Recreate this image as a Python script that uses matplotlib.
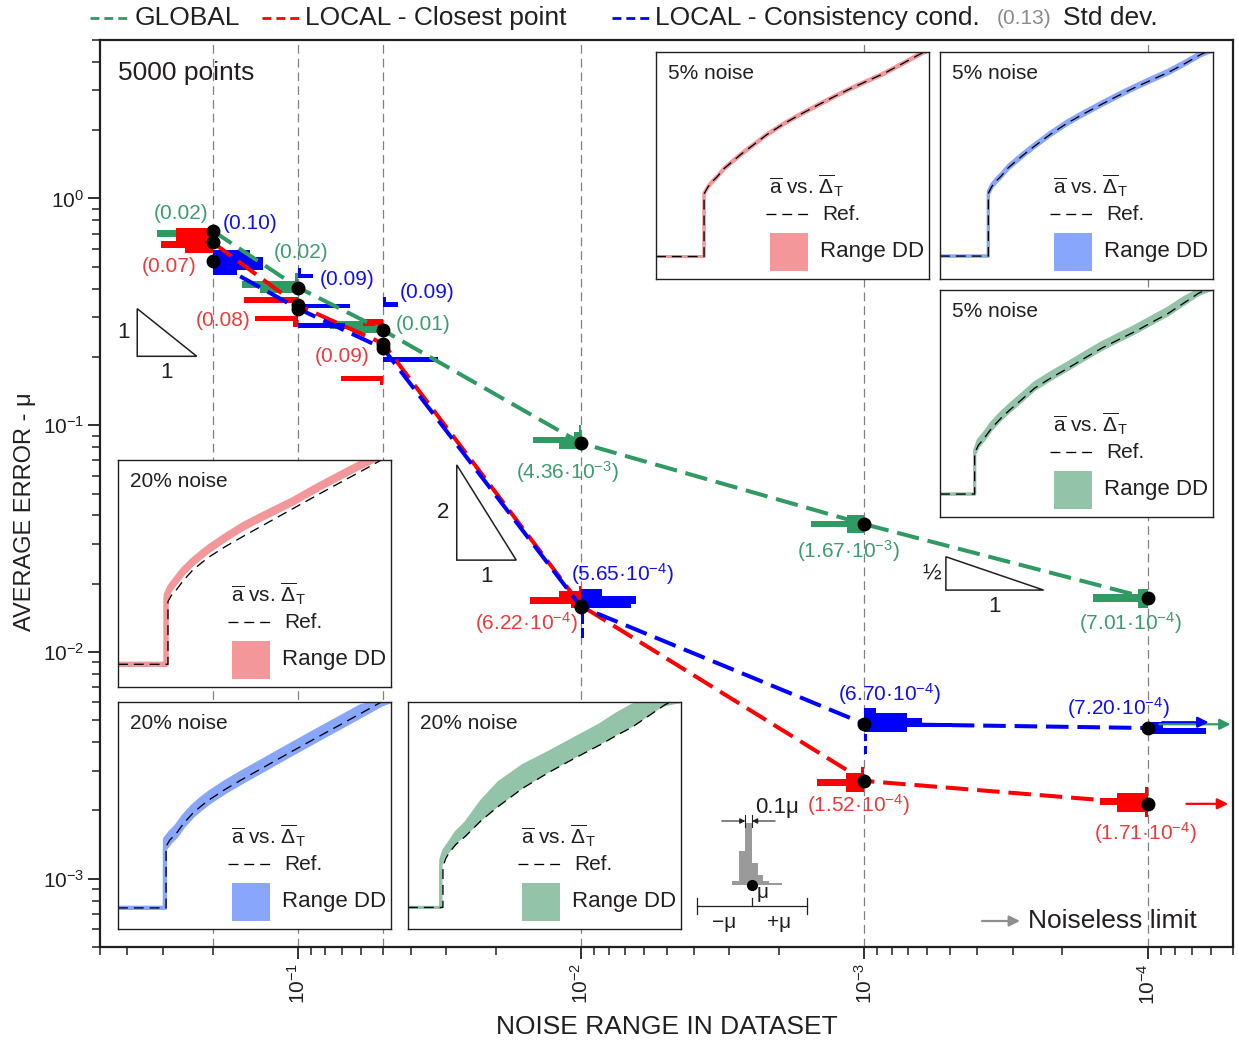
import matplotlib.pyplot as plt
import matplotlib.transforms as mtransforms
from matplotlib.patches import Rectangle, Polygon
from matplotlib.lines import Line2D
from matplotlib.ticker import LogLocator, NullFormatter
import numpy as np

plt.rcParams['font.family'] = ['Liberation Sans', 'DejaVu Sans']
plt.rcParams['mathtext.fontset'] = 'custom'
plt.rcParams['mathtext.rm'] = 'Liberation Sans'
plt.rcParams['mathtext.it'] = 'Liberation Sans:italic'
plt.rcParams['mathtext.bf'] = 'Liberation Sans:bold'
plt.rcParams['mathtext.sf'] = 'Liberation Sans'

W, H, DPI = 1238, 1043, 100
INK = '#231f20'
GREEN, RED, BLUE = '#2f9a62', '#ff0000', '#0000ff'
GREEN_TXT, RED_TXT, BLUE_TXT = '#3d9c6e', '#ee3a3a', '#1010ee'
GREEN_DD, RED_DD, BLUE_DD = '#93c4aa', '#f4979b', '#88a6fb'

# noise range of each dataset and mean error mu of each method
noise = [0.2, 0.1, 0.05, 0.01, 1e-3, 1e-4]
mu_global = [0.72, 0.405, 0.262, 0.0833, 0.0366, 0.0173]
mu_closest = [0.64, 0.338, 0.229, 0.0160, 0.0027, 0.00214]
mu_consist = [0.53, 0.327, 0.218, 0.0158, 0.00482, 0.00462]

# standard deviation of the error
std_global = [0.02, 0.02, 0.01, 4.36e-3, 1.67e-3, 7.01e-4]
std_closest = [0.07, 0.08, 0.09, 6.22e-4, 1.52e-4, 1.71e-4]
std_consist = [0.10, 0.09, 0.09, 5.65e-4, 6.70e-4, 7.20e-4]

# error histograms: (bin top, bin bottom, count) in screen px around mu
hist_global = [
    [(-1, 6, 56)],
    [(-15, -7, 3), (-7, 0, 56), (0, 5, 38)],
    [(-9, -1, 53), (-1, 3, 30)],
    [(-18, -11, 2), (-11, -6, 7), (-6, 0, 48), (0, 6, 22)],
    [(-9, -3, 17), (-3, 3, 53), (3, 9, 17)],
    [(-9, -4, 10), (-4, 4, 55), (4, 10, 10)],
]
hist_closest = [
    [(-14, -6, 37), (-6, -1, 37), (-1, 6, 52), (6, 11, 28)],
    [(-8, -2, 54), (11, 16, 43), (16, 22, 5)],
    [(-25, -18, 20), (32, 37, 42), (37, 41, 3)],
    [(-20, -15, 2), (-15, -9, 22), (-9, -2, 51), (-2, 2, 10)],
    [(-14, -8, 3), (-8, -2, 18), (-2, 5, 47), (5, 11, 18)],
    [(-17, -11, 3), (-11, -6, 31), (-6, 1, 48), (1, 8, 31), (8, 13, 3)],
]
hist_consist = [
    [(-11, -4, 37), (-4, 9, 50), (9, 14, 24)],
    [(-41, -35, 3), (-35, -31, 15), (-5, -1, 52), (14, 19, 47)],
    [(-51, -46, 3), (-46, -41, 15), (9, 14, 55)],
    [(-18, -11, 21), (-11, -3, 55), (-3, 1, 50), (7, 17, 3), (21, 31, 3)],
    [(-16, -11, 12), (-11, -6, 43), (-6, -1, 58), (-1, 3, 88), (3, 8, 43),
     (10, 17, 3), (22, 30, 3)],
    [(-6, 0, 15), (0, 6, 58)],
]

# noiseless limits (arrows at the right edge)
limit_global = 0.0048
limit_consist = 0.0049
limit_closest = 0.00214

# label offsets (px right, px down)
off_global = [(-32, -17), (3, -35), (40, -6), (-14, 29), (-16, 27), (-17, 25)]
off_closest = [(-44, 24), (-75, 15), (-41, 13), (-55, 17), (-6, 24), (-2, 29)]
off_consist = [(37, -38), (49, -29), (44, -56), (41, -33), (25, -30), (-29, -20)]

# slope guides: corner x, corner y, run and rise in decades, labels
slopes = [
    (0.3694, 0.2014, 0.21, 0.21, '1', '1'),
    (0.02751, 0.02542, 0.21, 0.42, '2', '1'),
    (5.16e-4, 0.01875, 0.345, 0.147, '½', '1'),
]

# inset curves (normalised): reference and Range DD band
inset_curves = {
    'red5': dict(
        rx=[0.0, 0.176, 0.176, 0.19, 0.205, 0.223, 0.25, 0.284, 0.315, 0.346, 0.405,
            0.468, 0.53, 0.591, 0.652, 0.713, 0.775, 0.836, 0.897, 0.958, 0.99],
        ry=[0.099, 0.099, 0.375, 0.405, 0.428, 0.449, 0.487, 0.522, 0.553, 0.581, 0.635,
            0.684, 0.726, 0.765, 0.803, 0.839, 0.873, 0.906, 0.945, 0.985, 1.005],
        dx=[0.0, 0.176, 0.176, 0.19, 0.205, 0.223, 0.25, 0.284, 0.315, 0.346, 0.405,
            0.468, 0.53, 0.591, 0.652, 0.713, 0.775, 0.836, 0.897, 0.958, 0.99],
        lo=[0.099, 0.099, 0.371, 0.401, 0.424, 0.445, 0.483, 0.518, 0.549, 0.577, 0.631,
            0.680, 0.722, 0.761, 0.799, 0.835, 0.869, 0.902, 0.941, 0.981, 1.0],
        hi=[0.099, 0.099, 0.379, 0.409, 0.432, 0.453, 0.491, 0.526, 0.557, 0.585, 0.639,
            0.688, 0.730, 0.769, 0.807, 0.843, 0.877, 0.910, 0.949, 0.989, 1.0],
        lw=2.2),
    'blue5': dict(
        rx=[0.0, 0.177, 0.177, 0.19, 0.205, 0.223, 0.25, 0.284, 0.315, 0.346, 0.405,
            0.468, 0.53, 0.591, 0.652, 0.713, 0.775, 0.836, 0.897, 0.955, 0.99],
        ry=[0.101, 0.101, 0.378, 0.408, 0.431, 0.452, 0.490, 0.525, 0.556, 0.585, 0.638,
            0.688, 0.730, 0.769, 0.807, 0.843, 0.877, 0.910, 0.949, 0.989, 1.008],
        dx=[0.0, 0.177, 0.177, 0.19, 0.205, 0.223, 0.25, 0.284, 0.315, 0.346, 0.405,
            0.468, 0.53, 0.591, 0.652, 0.713, 0.775, 0.836, 0.897, 0.955, 0.99],
        lo=[0.101, 0.101, 0.372, 0.402, 0.425, 0.446, 0.484, 0.519, 0.550, 0.579, 0.632,
            0.682, 0.724, 0.763, 0.801, 0.837, 0.871, 0.904, 0.943, 0.983, 1.0],
        hi=[0.101, 0.101, 0.388, 0.418, 0.441, 0.462, 0.500, 0.535, 0.566, 0.595, 0.648,
            0.698, 0.740, 0.779, 0.817, 0.853, 0.887, 0.920, 0.959, 0.999, 1.0],
        lw=2.2),
    'green5': dict(
        rx=[0.0, 0.127, 0.127, 0.14, 0.162, 0.19, 0.223, 0.254, 0.284, 0.346, 0.407,
            0.468, 0.53, 0.591, 0.652, 0.713, 0.775, 0.836, 0.89, 0.946, 0.99],
        ry=[0.101, 0.101, 0.281, 0.315, 0.347, 0.393, 0.435, 0.470, 0.501, 0.567, 0.613,
            0.655, 0.700, 0.743, 0.780, 0.816, 0.857, 0.897, 0.940, 0.985, 1.01],
        dx=[0.0, 0.127, 0.127, 0.14, 0.162, 0.19, 0.223, 0.254, 0.284, 0.346, 0.407,
            0.468, 0.53, 0.591, 0.652, 0.713, 0.775, 0.836, 0.89, 0.946, 0.99],
        lo=[0.101, 0.101, 0.275, 0.309, 0.341, 0.387, 0.429, 0.464, 0.495, 0.561, 0.607,
            0.649, 0.694, 0.737, 0.774, 0.810, 0.851, 0.891, 0.934, 0.979, 1.0],
        hi=[0.101, 0.101, 0.295, 0.339, 0.371, 0.417, 0.459, 0.494, 0.525, 0.591, 0.637,
            0.679, 0.724, 0.767, 0.804, 0.840, 0.881, 0.921, 0.964, 1.0, 1.0],
        lw=2.2),
    'red20': dict(
        rx=[0.0, 0.183, 0.183, 0.195, 0.213, 0.24, 0.274, 0.305, 0.335, 0.395, 0.456,
            0.517, 0.577, 0.638, 0.698, 0.758, 0.819, 0.89, 0.965, 0.99],
        ry=[0.100, 0.100, 0.376, 0.403, 0.427, 0.470, 0.515, 0.546, 0.574, 0.620, 0.662,
            0.703, 0.743, 0.784, 0.824, 0.864, 0.904, 0.950, 1.0, 1.01],
        dx=[0.0, 0.176, 0.176, 0.19, 0.213, 0.24, 0.274, 0.305, 0.335, 0.395, 0.456,
            0.517, 0.577, 0.638, 0.698, 0.759, 0.819, 0.862, 0.9, 0.94],
        lo=[0.100, 0.100, 0.390, 0.427, 0.463, 0.504, 0.544, 0.575, 0.603, 0.652, 0.698,
            0.736, 0.772, 0.808, 0.849, 0.889, 0.927, 0.954, 0.977, 1.0],
        hi=[0.100, 0.100, 0.406, 0.443, 0.479, 0.520, 0.560, 0.591, 0.619, 0.668, 0.714,
            0.752, 0.788, 0.824, 0.865, 0.905, 0.943, 0.970, 0.993, 1.0],
        lw=3.6),
    'blue20': dict(
        rx=[0.0, 0.176, 0.176, 0.19, 0.213, 0.24, 0.274, 0.305, 0.335, 0.395, 0.456,
            0.517, 0.577, 0.638, 0.698, 0.758, 0.819, 0.89, 0.965, 0.99],
        ry=[0.093, 0.093, 0.364, 0.392, 0.420, 0.465, 0.510, 0.542, 0.570, 0.617, 0.660,
            0.701, 0.742, 0.783, 0.823, 0.863, 0.903, 0.950, 1.0, 1.01],
        dx=[0.0, 0.172, 0.172, 0.19, 0.213, 0.24, 0.274, 0.305, 0.335, 0.395, 0.456,
            0.517, 0.577, 0.638, 0.698, 0.758, 0.819, 0.89, 0.965, 0.99],
        lo=[0.093, 0.093, 0.352, 0.380, 0.408, 0.453, 0.498, 0.530, 0.558, 0.605, 0.648,
            0.689, 0.730, 0.771, 0.811, 0.851, 0.891, 0.938, 0.988, 1.0],
        hi=[0.093, 0.093, 0.396, 0.424, 0.452, 0.497, 0.542, 0.574, 0.602, 0.649, 0.692,
            0.733, 0.774, 0.815, 0.855, 0.895, 0.935, 0.982, 1.0, 1.0],
        lw=3.0),
    'green20': dict(
        rx=[0.0, 0.128, 0.128, 0.138, 0.15, 0.175, 0.211, 0.27, 0.333, 0.42, 0.516,
            0.61, 0.7, 0.76, 0.822, 0.883, 0.944, 0.99],
        ry=[0.095, 0.095, 0.276, 0.310, 0.335, 0.372, 0.409, 0.480, 0.542, 0.620, 0.690,
            0.752, 0.809, 0.850, 0.890, 0.940, 0.990, 1.01],
        dx=[0.0, 0.12, 0.12, 0.13, 0.15, 0.175, 0.211, 0.27, 0.333, 0.42, 0.516,
            0.61, 0.7, 0.76, 0.822, 0.88, 0.93, 0.99],
        lo=[0.095, 0.095, 0.280, 0.318, 0.345, 0.383, 0.418, 0.487, 0.550, 0.627, 0.698,
            0.760, 0.817, 0.858, 0.898, 0.945, 0.985, 1.0],
        hi=[0.095, 0.095, 0.305, 0.345, 0.379, 0.425, 0.468, 0.565, 0.646, 0.720, 0.779,
            0.840, 0.898, 0.945, 0.987, 1.0, 1.0, 1.0],
        lw=2.2),
}

# shape of the key histogram (bins in units of mu, counts in px)
key_edges = [-0.36, -0.24, -0.12, 0.0, 0.1, 0.2, 0.31, 0.55]
key_counts = [4, 34, 62, 22, 10, 4, 2]


def px_box(l, t, r, b):
    return [l / W, 1 - b / H, (r - l) / W, (b - t) / H]


def std_label(v):
    if v >= 0.01:
        return f'({v:.2f})'
    e = int(np.floor(np.log10(v)))
    return f'({v / 10**e:.2f}·$10^{{{e}}}$)'


fig = plt.figure(figsize=(W / DPI, H / DPI), dpi=DPI)
ax = fig.add_axes(px_box(100, 40, 1233, 947))
ax.set_xscale('log')
ax.set_yscale('log')
ax.set_xlim(0.5, 5e-5)
ax.set_ylim(5e-4, 5)

for x in noise:
    ax.axvline(x, color='#808080', lw=0.9, dashes=(7, 4), zorder=0)


def draw_hist(xp, yp, rows, color, side):
    trans = fig.dpi_scale_trans + mtransforms.ScaledTranslation(xp, yp, ax.transData)
    for top, bot, n in rows:
        x0 = -n if side == 'left' else 0
        ax.add_patch(Rectangle((x0 / DPI, -bot / DPI), n / DPI, (bot - top) / DPI,
                               transform=trans, facecolor=color, lw=0, zorder=2))


series = [
    (mu_global, std_global, hist_global, off_global, GREEN, GREEN_TXT, 'left'),
    (mu_closest, std_closest, hist_closest, off_closest, RED, RED_TXT, 'left'),
    (mu_consist, std_consist, hist_consist, off_consist, BLUE, BLUE_TXT, 'right'),
]
for mu, sd, hist, off, col, tcol, side in series:
    for x, m, rows in zip(noise, mu, hist):
        draw_hist(x, m, rows, col, side)
for mu, sd, hist, off, col, tcol, side in series:
    ax.plot(noise, mu, color=col, lw=2.9, dashes=(5.6, 2.2), zorder=4)
    for x, m, s, (dx, dy) in zip(noise, mu, sd, off):
        ax.annotate(std_label(s), (x, m), xytext=(dx, -dy), textcoords='offset pixels',
                    ha='center', va='center', fontsize=15, color=tcol, zorder=7)
for mu in (mu_global, mu_closest, mu_consist):
    ax.plot(noise, mu, 'o', color='k', ms=9, zorder=8)

# noiseless limit arrows
for y, x0, x1, col in [(limit_global, 9.1e-5, 5.1e-5, GREEN),
                       (limit_consist, 8.9e-5, 6.1e-5, BLUE),
                       (limit_closest, 7.3e-5, 5.2e-5, RED)]:
    ax.annotate('', xy=(x1, y), xytext=(x0, y),
                arrowprops=dict(arrowstyle='-|>', color=col, lw=1.6, mutation_scale=16,
                                shrinkA=0, shrinkB=0), zorder=5)

# slope triangles
for x0, y0, run, rise, lab_rise, lab_run in slopes:
    x1 = x0 / 10**run
    y1 = y0 * 10**rise
    ax.add_patch(Polygon([(x0, y0), (x1, y0), (x0, y1)], closed=True, fill=False,
                         edgecolor=INK, lw=1.1, zorder=3))
    ax.annotate(lab_rise, (x0, np.sqrt(y0 * y1)), xytext=(-14, 0), textcoords='offset pixels',
                ha='center', va='center', fontsize=16, color=INK)
    ax.annotate(lab_run, (np.sqrt(x0 * x1), y0), xytext=(0, -16), textcoords='offset pixels',
                ha='center', va='center', fontsize=16, color=INK)

ax.text(0.0159, 0.9636, '5000 points', transform=ax.transAxes, ha='left', va='center',
        fontsize=19, color=INK)

# axes styling
ax.set_xticks([1e-1, 1e-2, 1e-3, 1e-4])
ax.set_xticklabels([r'$10^{-1}$', r'$10^{-2}$', r'$10^{-3}$', r'$10^{-4}$'], rotation=90)
ax.set_yticks([1e-3, 1e-2, 1e-1, 1e0])
ax.set_yticklabels([r'$10^{-3}$', r'$10^{-2}$', r'$10^{-1}$', r'$10^{0}$'])
for axis in (ax.xaxis, ax.yaxis):
    axis.set_minor_locator(LogLocator(base=10, subs=np.arange(2, 10), numticks=20))
    axis.set_minor_formatter(NullFormatter())
ax.tick_params(which='major', direction='out', length=8.5, width=1.3, labelsize=15,
               colors=INK, pad=3)
ax.tick_params(which='minor', direction='out', length=5.5, width=1.1, colors=INK)
for s in ax.spines.values():
    s.set_linewidth(1.6)
    s.set_color(INK)
ax.set_xlabel('NOISE RANGE IN DATASET', fontsize=19, color=INK, va='center')
ax.xaxis.set_label_coords(0.5, -0.088)
ax.set_ylabel('AVERAGE ERROR - μ', fontsize=17, color=INK, va='center')
ax.yaxis.set_label_coords(-0.066, 0.48)

# top legend
for x0, x1, tx, label, col in [(90, 128, 135, 'GLOBAL', GREEN),
                               (262, 300, 305, 'LOCAL - Closest point', RED),
                               (612, 650, 655, 'LOCAL - Consistency cond.', BLUE)]:
    fig.add_artist(Line2D([x0 / W, x1 / W], [1 - 18 / H] * 2, transform=fig.transFigure,
                          color=col, lw=2.0, dashes=(3.2, 1.8)))
    fig.text(tx / W, 1 - 18 / H, label, fontsize=19, color=INK, ha='left', va='center')
fig.text(997 / W, 1 - 18 / H, '(0.13)', fontsize=15, color='#8a8a8a', ha='left', va='center')
fig.text(1063 / W, 1 - 18 / H, 'Std dev.', fontsize=19, color=INK, ha='left', va='center')

# noiseless limit key
ax.annotate('', xy=(1020 / W, 1 - 921 / H), xytext=(982 / W, 1 - 921 / H),
            xycoords='figure fraction', textcoords='figure fraction',
            arrowprops=dict(arrowstyle='-|>', color='#8f8f8f', lw=1.6, mutation_scale=16,
                            shrinkA=0, shrinkB=0))
fig.text(1028 / W, 1 - 921 / H, 'Noiseless limit', fontsize=19, color=INK, ha='left',
         va='center')


def draw_inset(box, title, curve, band):
    ia = fig.add_axes(px_box(*box))
    ia.set_xlim(0, 1)
    ia.set_ylim(0, 1)
    ia.set_xticks([])
    ia.set_yticks([])
    for s in ia.spines.values():
        s.set_linewidth(1.0)
        s.set_color(INK)
    ia.fill_between(curve['dx'], curve['lo'], curve['hi'], color=band, lw=0)
    ia.plot(curve['dx'], curve['lo'], color=band, lw=curve['lw'])
    ia.plot(curve['dx'], curve['hi'], color=band, lw=curve['lw'])
    ia.plot(curve['rx'], curve['ry'], color='k', lw=0.95, dashes=(7.5, 4.5))
    ia.text(0.044, 0.907, title, transform=ia.transAxes, fontsize=15, color=INK,
            ha='left', va='center')
    ia.text(0.414, 0.41, r'$\overline{\mathrm{a}}$ vs. $\overline{\Delta}_{\mathrm{T}}$',
            transform=ia.transAxes, fontsize=15, color=INK, ha='left', va='center')
    ia.plot([0.403, 0.571], [0.286, 0.286], color='k', lw=0.95, dashes=(7.5, 4.5),
            transform=ia.transAxes)
    ia.text(0.608, 0.286, 'Ref.', transform=ia.transAxes, fontsize=15, color=INK,
            ha='left', va='center')
    ia.add_patch(Rectangle((0.418, 0.035), 0.139, 0.168, facecolor=band, lw=0,
                           transform=ia.transAxes))
    ia.text(0.6, 0.123, 'Range DD', transform=ia.transAxes, fontsize=16, color=INK,
            ha='left', va='center')


draw_inset((656, 52, 929, 279), '5% noise', inset_curves['red5'], RED_DD)
draw_inset((940, 52, 1213, 279), '5% noise', inset_curves['blue5'], BLUE_DD)
draw_inset((940, 290, 1213, 517), '5% noise', inset_curves['green5'], GREEN_DD)
draw_inset((118, 460, 391, 687), '20% noise', inset_curves['red20'], RED_DD)
draw_inset((118, 702, 391, 929), '20% noise', inset_curves['blue20'], BLUE_DD)
draw_inset((408, 702, 681, 929), '20% noise', inset_curves['green20'], GREEN_DD)

# histogram key: bin width, mean and +-mu scale
key = fig.add_axes(px_box(690, 795, 815, 935))
key.set_xlim(-1.127, 1.145)
key.set_ylim(-50, 90)
key.axis('off')
key.bar(key_edges[:-1], key_counts, width=np.diff(key_edges), align='edge',
        color='#9a9a9a', lw=0)
key.plot([0], [0], 'o', color='k', ms=7, zorder=5)
key.text(0.08, -8, 'μ', fontsize=15, color=INK, ha='left', va='center')
key.plot([-1, 1], [-21, -21], color=INK, lw=0.9)
for x, y0, y1 in [(-1, -29, -13), (0, -21, -13), (1, -29, -13)]:
    key.plot([x, x], [y0, y1], color=INK, lw=0.9)
key.text(-0.5, -38, '−μ', fontsize=15, color=INK, ha='center', va='center')
key.text(0.5, -38, '+μ', fontsize=15, color=INK, ha='center', va='center')
for x in (-0.12, 0.0):
    key.plot([x, x], [58, 70], color=INK, lw=0.8)
key.annotate('', xy=(-0.12, 64), xytext=(-0.55, 64),
             arrowprops=dict(arrowstyle='-|>', color=INK, lw=0.8, mutation_scale=8,
                             shrinkA=0, shrinkB=0))
key.annotate('', xy=(0.0, 64), xytext=(0.42, 64),
             arrowprops=dict(arrowstyle='-|>', color=INK, lw=0.8, mutation_scale=8,
                             shrinkA=0, shrinkB=0))
key.text(0.05, 78, '0.1μ', fontsize=16, color=INK, ha='left', va='center')

fig.savefig('out.png', dpi=DPI)
